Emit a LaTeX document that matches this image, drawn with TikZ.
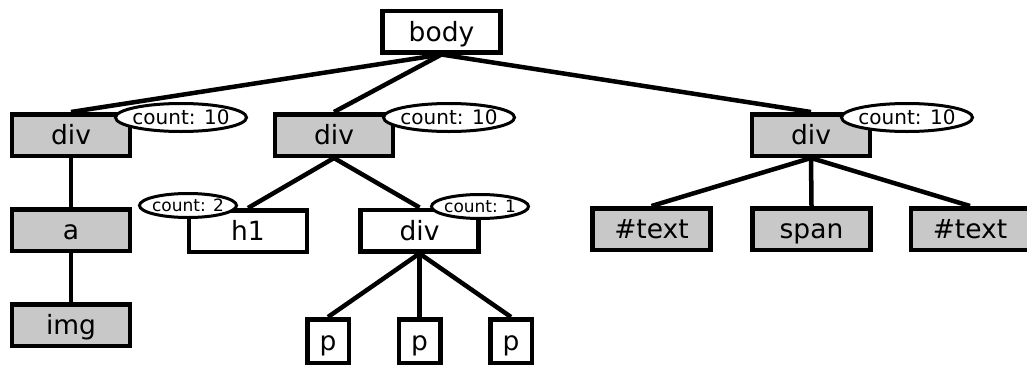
\documentclass[tikz,border=0pt]{standalone}
\usepackage{fontspec}
\setmainfont{DejaVu Sans}
\usetikzlibrary{shapes.geometric}
\definecolor{boxgray}{RGB}{200,200,200}
\tikzset{
  tag/.style={draw, line width=4.5pt, minimum width=118pt, minimum height=41.5pt,
    inner sep=0pt, text height=21.5pt, text depth=2.5pt,
    font=\fontsize{26.5}{30}\selectfont},
  plain/.style={tag, fill=white},
  shaded/.style={tag, fill=boxgray},
  ptag/.style={plain, minimum width=41.5pt, minimum height=43.5pt},
  counter/.style={draw, ellipse, fill=white, line width=3pt, inner ysep=0pt,
    inner xsep=-3pt, minimum width=131pt, minimum height=28pt,
    text height=15pt, text depth=1pt, font=\fontsize{20}{22}\selectfont},
  smallcounter/.style={counter, minimum width=97pt, minimum height=24pt,
    text height=12.5pt, text depth=1pt, font=\fontsize{17}{18}\selectfont},
  link/.style={line width=4.5pt},
}
\begin{document}
\begin{tikzpicture}[x=1pt, y=-1pt]
\useasboundingbox (0,0) rectangle (1027,367);

% element boxes
\node[plain]  (body) at (441.5,31.5) {body};
\node[shaded] (divA) at (71,135)  {div};
\node[shaded] (divB) at (334,135) {div};
\node[shaded] (divC) at (811,135) {div};
\node[shaded] (a)    at (71,230)  {a};
\node[shaded] (img)  at (71,325)  {img};
\node[plain]  (h1)   at (248,231) {h1};
\node[plain]  (divD) at (419.5,230.5) {div};
\node[ptag]   (p1)   at (328,341) {p};
\node[ptag]   (p2)   at (419.5,341) {p};
\node[ptag]   (p3)   at (511,341) {p};
\node[shaded] (txt1) at (651.5,229) {\#text};
\node[shaded] (span) at (811.5,229) {span};
\node[shaded] (txt2) at (970,229) {\#text};

% tree edges
\draw[link] (body.south) -- (divA.north);
\draw[link] (body.south) -- (divB.north);
\draw[link] (body.south) -- (divC.north);
\draw[link] (divA.south) -- (a.north);
\draw[link] (a.south) -- (img.north);
\draw[link] (divB.south) -- (h1.north);
\draw[link] (divB.south) -- (divD.north);
\draw[link] (divD.south) -- (p1.north);
\draw[link] (divD.south) -- (p2.north);
\draw[link] (divD.south) -- (p3.north);
\draw[link] (divC.south) -- (txt1.north);
\draw[link] (divC.south) -- (span.north);
\draw[link] (divC.south) -- (txt2.north);

% count badges
\node[counter] (cA) at (181,117.5) {count: 10};
\node[counter] (cB) at (449,117.5) {count: 10};
\node[counter] (cC) at (907,117.5) {count: 10};
\node[smallcounter] (cH) at (188,205.5) {count: 2};
\node[smallcounter] (cD) at (480,206.5) {count: 1};
\end{tikzpicture}
\end{document}
